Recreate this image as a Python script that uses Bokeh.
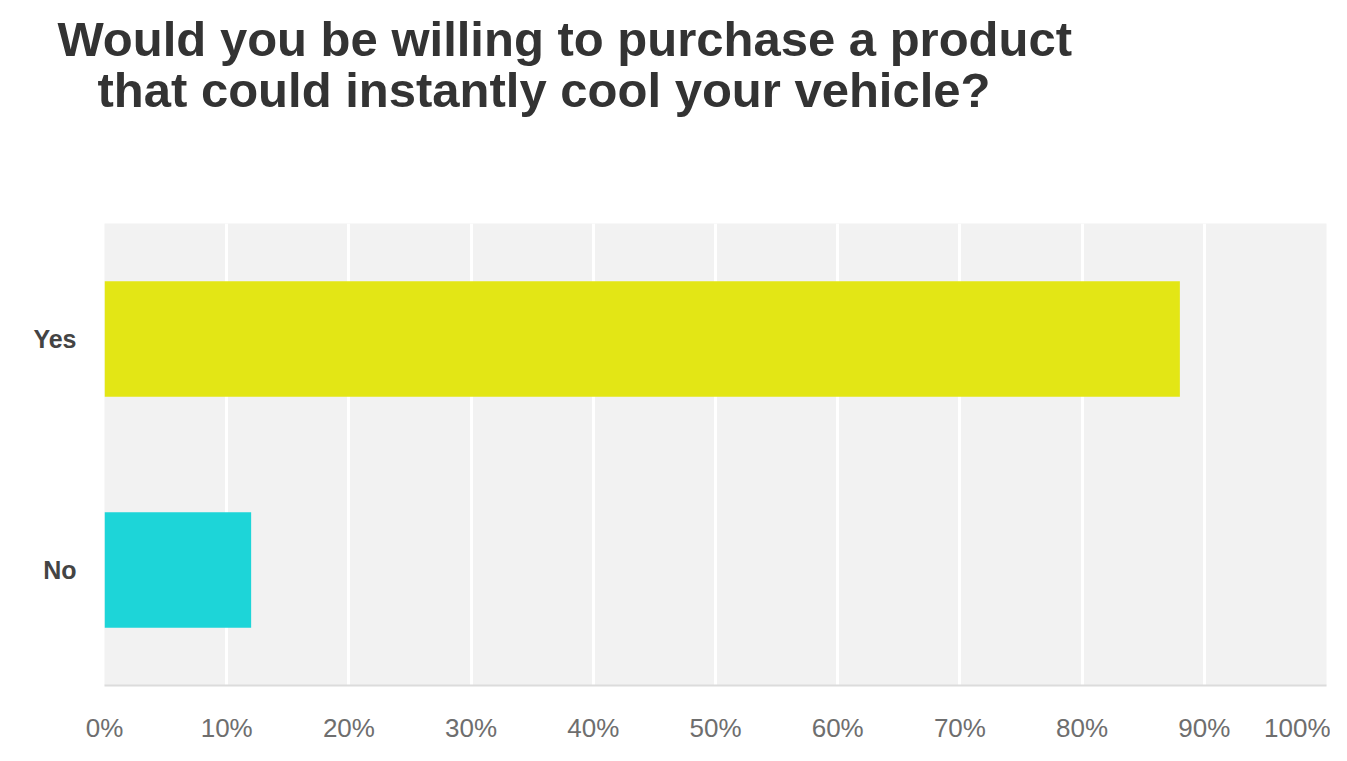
from bokeh.plotting import figure
from bokeh.models import FactorRange, Range1d, FixedTicker, Title
from bokeh.embed import file_html
from bokeh.resources import INLINE

# ---- data ----
categories = ["No", "Yes"]          # bottom to top
values = [12.0, 88.0]               # percent of respondents
colors = ["#1dd5d8", "#e3e615"]
tick_values = [0, 10, 20, 30, 40, 50, 60, 70, 80, 90, 100]
tick_labels = ["0%", "10%", "20%", "30%", "40%", "50%", "60%", "70%", "80%", "90%", "100%"]
title_line1 = "Would you be willing to purchase a product"
title_line2 = "that could instantly cool your vehicle?"

p = figure(
    width=1330, height=745,
    y_range=FactorRange(*categories),
    x_range=Range1d(0, 100),
    output_backend="svg", toolbar_location=None,
    min_border_left=104, min_border_right=4, min_border_bottom=59, min_border_top=223,
)

p.hbar(y=categories, right=values, left=0, height=0.5, color=colors, line_color=None)

# titles (added nearest-to-frame first); first one is an invisible spacer
spacer = Title(text=".", text_color="white", text_font_size="49px", standoff=74)
p.add_layout(spacer, "above")
t2 = Title(text=title_line2, align="left", offset=-7, text_font="Liberation Sans",
           text_font_size="49px", text_font_style="bold", text_color="#333333",
           standoff=-5)
p.add_layout(t2, "above")
t1 = Title(text=title_line1, align="left", offset=-47, text_font="Liberation Sans",
           text_font_size="49px", text_font_style="bold", text_color="#333333",
           standoff=-5)
p.add_layout(t1, "above")

p.background_fill_color = "#f2f2f2"
p.border_fill_color = "white"
p.outline_line_color = None

p.ygrid.grid_line_color = None
p.xgrid.grid_line_color = "white"
p.xgrid.grid_line_width = 3
p.xgrid.ticker = FixedTicker(ticks=tick_values)

p.xaxis.ticker = FixedTicker(ticks=tick_values)
p.xaxis.major_label_overrides = {v: l for v, l in zip(tick_values, tick_labels)}
p.xaxis.axis_line_color = "#dcdcdc"
p.xaxis.axis_line_width = 2
p.xaxis.major_tick_line_color = None
p.xaxis.minor_tick_line_color = None
p.xaxis.major_label_text_font = "Liberation Sans"
p.xaxis.major_label_text_font_size = "26px"
p.xaxis.major_label_text_color = "#6e6e6e"
p.xaxis.major_label_standoff = 21

p.yaxis.axis_line_color = None
p.yaxis.major_tick_line_color = None
p.yaxis.minor_tick_line_color = None
p.yaxis.major_label_text_font = "Liberation Sans"
p.yaxis.major_label_text_font_size = "25px"
p.yaxis.major_label_text_font_style = "bold"
p.yaxis.major_label_text_color = "#444444"
p.yaxis.major_label_standoff = 22

open("out.html", "w").write(file_html(p, INLINE))
